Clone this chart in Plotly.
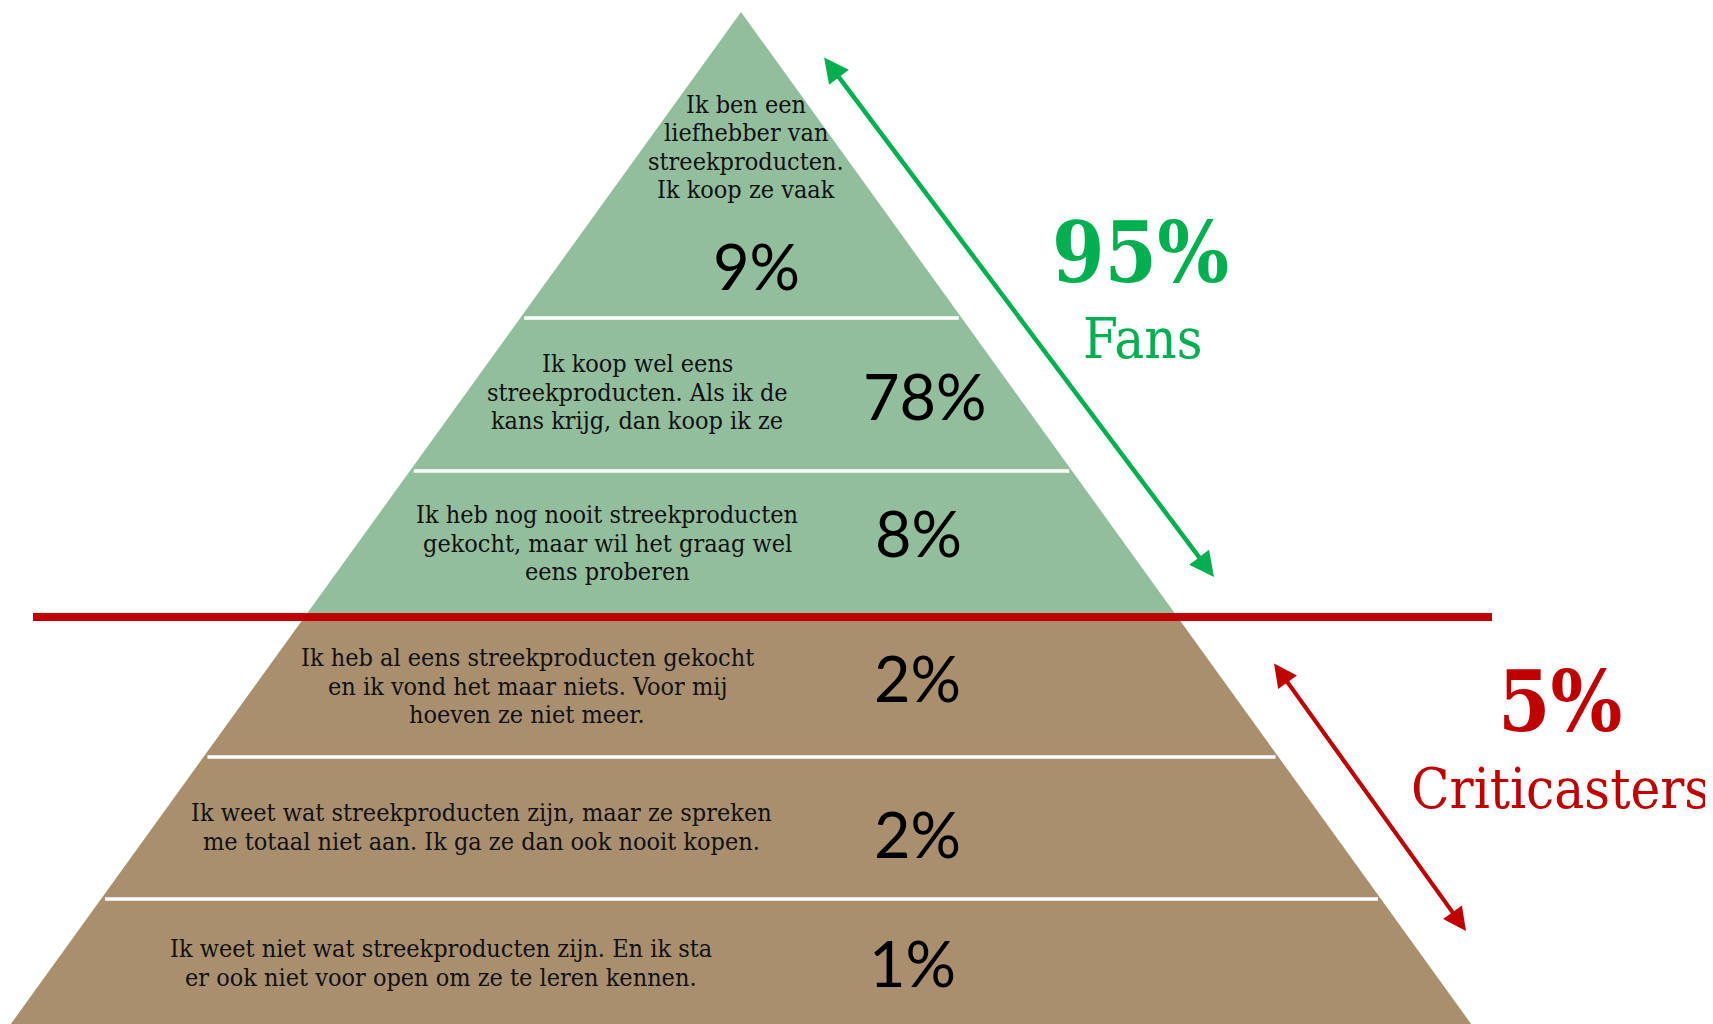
import plotly.graph_objects as go

# ---------------- data ----------------
statements = [
    "Ik ben een<br>liefhebber van<br>streekproducten.<br>Ik koop ze vaak",
    "Ik koop wel eens<br>streekproducten. Als ik de<br>kans krijg, dan koop ik ze",
    "Ik heb nog nooit streekproducten<br>gekocht, maar wil het graag wel<br>eens proberen",
    "Ik heb al eens streekproducten gekocht<br>en ik vond het maar niets. Voor mij<br>hoeven ze niet meer.",
    "Ik weet wat streekproducten zijn, maar ze spreken<br>me totaal niet aan. Ik ga ze dan ook nooit kopen.",
    "Ik weet niet wat streekproducten zijn. En ik sta<br>er ook niet voor open om ze te leren kennen.",
]
percents = [9, 78, 8, 2, 2, 1]
groups = ["Fans", "Fans", "Fans", "Criticasters", "Criticasters", "Criticasters"]
group_names = ["Fans", "Criticasters"]
group_totals = [95, 5]

# ---------------- layout / style ----------------
W, H = 1713, 1024
OFF = 8  # default page body margin
APEX_X, APEX_Y, BASE_Y = 741, 12, 1024
SLOPE = 0.7215
band_edges = [APEX_Y, 318, 471, 617, 757, 899, BASE_Y + 20]
label_pos = [(746, 147), (637, 392), (607, 543), (527, 686), (481, 827), (441, 963)]
LINE_H = 28.5
pct_pos = [(756, 265), (925, 395), (918, 532), (917, 677), (917, 833), (912, 962)]
fill_col = {"Fans": "#93BE9E", "Criticasters": "#AA8F6F"}
grp_col = {"Fans": "#00B050", "Criticasters": "#C00000"}
grp_pos = {"Fans": (1140, 252, 1142, 338), "Criticasters": (1560, 701, 1560, 788)}
arrows = {"Fans": ((823, 56), (1214, 577), 4.5), "Criticasters": ((1273, 662), (1466, 931), 4.2)}
SLAB = "DejaVu Serif Condensed, DejaVu Serif, serif"


def half(y):
    return (y - APEX_Y) * SLOPE


fig = go.Figure()

for i, (st, p, g) in enumerate(zip(statements, percents, groups)):
    y0, y1 = band_edges[i], band_edges[i + 1]
    xs = [APEX_X - half(y0), APEX_X + half(y0), APEX_X + half(y1), APEX_X - half(y1), APEX_X - half(y0)]
    ys = [y0, y0, y1, y1, y0]
    fig.add_trace(go.Scatter(x=xs, y=ys, fill="toself", fillcolor=fill_col[g],
                             mode="lines", line=dict(width=0, color=fill_col[g]),
                             hoverinfo="skip", showlegend=False))
    lx, ly = label_pos[i]
    lines = st.split("<br>")
    n = len(lines)
    for j, ln in enumerate(lines):
        fig.add_annotation(x=lx, y=ly + (j - (n - 1) / 2) * LINE_H, text=ln, showarrow=False,
                           xanchor="center", yanchor="middle", align="center",
                           font=dict(family=SLAB, size=25, color="#111111"))
    px_, py_ = pct_pos[i]
    fig.add_annotation(x=px_, y=py_, text=f"{p}%", showarrow=False, xanchor="center", yanchor="middle",
                       font=dict(family="Lato, sans-serif", size=63, color="#000000"))

# white separators
for i in range(1, len(band_edges) - 1):
    y = band_edges[i]
    if groups[i - 1] != groups[i]:
        continue
    fig.add_shape(type="line", x0=APEX_X - half(y) + 4, x1=APEX_X + half(y) - 3, y0=y, y1=y,
                  line=dict(color="white", width=3.5), layer="above")

# red dividing line
split = band_edges[groups.index("Criticasters")]
fig.add_shape(type="line", x0=33, x1=1492, y0=split, y1=split,
              line=dict(color="#C00000", width=8), layer="above")

# group totals and arrows
for name, tot in zip(group_names, group_totals):
    c = grp_col[name]
    x1, y1, x2, y2 = grp_pos[name]
    fig.add_annotation(x=x1, y=y1, text=f"<b>{tot}%</b>", showarrow=False, xanchor="center",
                       yanchor="middle", font=dict(family=SLAB, size=84, color=c))
    fig.add_annotation(x=x2, y=y2, text=name, showarrow=False, xanchor="center",
                       yanchor="middle", font=dict(family=SLAB, size=56, color=c))
    (hx, hy), (tx, ty), w = arrows[name]
    fig.add_annotation(x=tx, y=ty, ax=hx, ay=hy, xref="x", yref="y", axref="x", ayref="y",
                       text="", showarrow=True, arrowhead=2, startarrowhead=2, arrowside="end+start",
                       arrowsize=1.1, startarrowsize=1.1, arrowwidth=w, arrowcolor=c,
                       standoff=0, startstandoff=0)

fig.update_layout(
    width=W, height=H, margin=dict(l=0, r=0, t=0, b=0),
    paper_bgcolor="white", plot_bgcolor="white",
    xaxis=dict(range=[OFF, W + OFF], visible=False, fixedrange=True),
    yaxis=dict(range=[H + OFF, OFF], visible=False, fixedrange=True),
    showlegend=False,
)

fig.write_html("out.html")
